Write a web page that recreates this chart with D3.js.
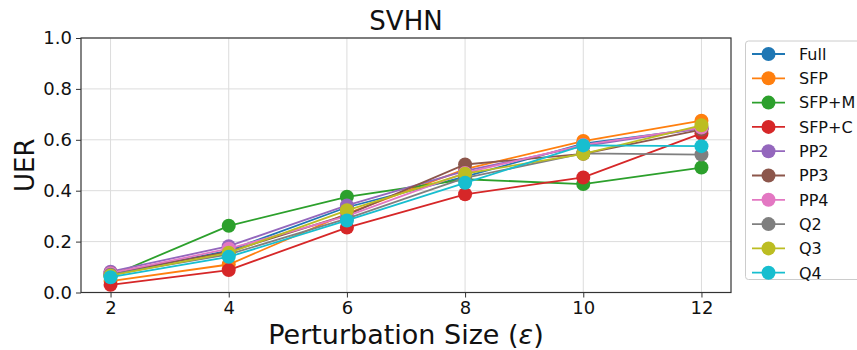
<!DOCTYPE html>
<html><head><meta charset="utf-8">
<script src="https://cdn.jsdelivr.net/npm/d3@7"></script>
<style>body{margin:0;background:#fff}svg{display:block;font-family:"DejaVu Sans",sans-serif}</style>
</head><body><svg id="c" width="857" height="350"></svg>
<script>
const xValues = [2, 4, 6, 8, 10, 12];
const seriesNames = ["Full","SFP","SFP+M","SFP+C","PP2","PP3","PP4","Q2","Q3","Q4"];
const seriesColors = ["#1f77b4","#ff7f0e","#2ca02c","#d62728","#9467bd","#8c564b","#e377c2","#7f7f7f","#bcbd22","#17becf"];
const full  = [0.070, 0.165, 0.335, 0.455, 0.585, 0.645];
const sfp   = [0.045, 0.110, 0.310, 0.485, 0.595, 0.675];
const sfpM  = [0.065, 0.262, 0.376, 0.445, 0.426, 0.491];
const sfpC  = [0.030, 0.088, 0.255, 0.386, 0.452, 0.625];
const pp2   = [0.082, 0.182, 0.342, 0.478, 0.575, 0.645];
const pp3   = [0.076, 0.160, 0.305, 0.503, 0.545, 0.640];
const pp4   = [0.076, 0.172, 0.300, 0.470, 0.580, 0.648];
const q2    = [0.070, 0.150, 0.290, 0.450, 0.547, 0.542];
const q3    = [0.066, 0.156, 0.323, 0.467, 0.545, 0.657];
const q4    = [0.060, 0.140, 0.283, 0.431, 0.578, 0.575];
const seriesValues = [full, sfp, sfpM, sfpC, pp2, pp3, pp4, q2, q3, q4];
const xTicks = [2, 4, 6, 8, 10, 12];
const yTicks = [0, 0.2, 0.4, 0.6, 0.8, 1.0];

const svg = d3.select("#c");
const L = 81, R = 731, T = 38, B = 292.5;
const x = d3.scaleLinear().domain([1.5, 12.5]).range([L, R]);
const y = d3.scaleLinear().domain([0, 1]).range([B, T]);

// grid
const g = svg.append("g");
g.selectAll(".gx").data(xTicks).join("line")
  .attr("x1", d => x(d)).attr("x2", d => x(d)).attr("y1", T).attr("y2", B)
  .attr("stroke", "#dcdcdc").attr("stroke-width", 1);
g.selectAll(".gy").data(yTicks).join("line")
  .attr("x1", L).attr("x2", R).attr("y1", d => y(d)).attr("y2", d => y(d))
  .attr("stroke", "#dcdcdc").attr("stroke-width", 1);

// axes
const xAxis = svg.append("g").attr("transform", `translate(0,${B})`)
  .call(d3.axisBottom(x).tickValues(xTicks).tickSize(5).tickPadding(4).tickFormat(d3.format("d")));
const yAxis = svg.append("g").attr("transform", `translate(${L},0)`)
  .call(d3.axisLeft(y).tickValues(yTicks).tickSize(5).tickPadding(4).tickFormat(d3.format(".1f")));
[xAxis, yAxis].forEach(a => {
  a.select(".domain").remove();
  a.selectAll("line").attr("stroke", "#333");
  a.selectAll("text").attr("font-size", 18).attr("fill", "#111").attr("font-family", "DejaVu Sans");
});
// spines
svg.append("rect").attr("x", L).attr("y", T).attr("width", R - L).attr("height", B - T)
  .attr("fill", "none").attr("stroke", "#333").attr("stroke-width", 1.2);

// lines + markers
const line = d3.line().x((d, i) => x(xValues[i])).y(d => y(d));
seriesValues.forEach((vals, si) => {
  const sg = svg.append("g");
  sg.append("path").datum(vals).attr("d", line).attr("fill", "none")
    .attr("stroke", seriesColors[si]).attr("stroke-width", 1.8);
  sg.selectAll("circle").data(vals).join("circle")
    .attr("cx", (d, i) => x(xValues[i])).attr("cy", d => y(d)).attr("r", 7)
    .attr("fill", seriesColors[si]);
});

// title & labels
svg.append("text").attr("x", (L + R) / 2).attr("y", 29.5).attr("text-anchor", "middle")
  .attr("font-size", 26).attr("fill", "#111").text("SVHN");
const xl = svg.append("text").attr("x", (L + R) / 2).attr("y", 344).attr("text-anchor", "middle")
  .attr("font-size", 27).attr("fill", "#111");
xl.append("tspan").text("Perturbation Size (");
xl.append("tspan").attr("font-style", "italic").text("ε");
xl.append("tspan").text(")");
svg.append("text").attr("transform", `translate(33.5,${(T + B) / 2}) rotate(-90)`)
  .attr("text-anchor", "middle").attr("font-size", 26).attr("fill", "#111").text("UER");

// legend
const lg = svg.append("g");
lg.append("rect").attr("x", 745.5).attr("y", 41).attr("width", 130).attr("height", 238.5)
  .attr("rx", 3).attr("fill", "#fff").attr("fill-opacity", 0.8).attr("stroke", "#cccccc");
seriesNames.forEach((n, i) => {
  const yy = 54 + i * 24.3;
  lg.append("line").attr("x1", 752).attr("x2", 785).attr("y1", yy).attr("y2", yy)
    .attr("stroke", seriesColors[i]).attr("stroke-width", 1.8);
  lg.append("circle").attr("cx", 768.5).attr("cy", yy).attr("r", 7).attr("fill", seriesColors[i]);
  lg.append("text").attr("x", 799).attr("y", yy + 5.8).attr("font-size", 16).attr("fill", "#111").text(n);
});
</script></body></html>
